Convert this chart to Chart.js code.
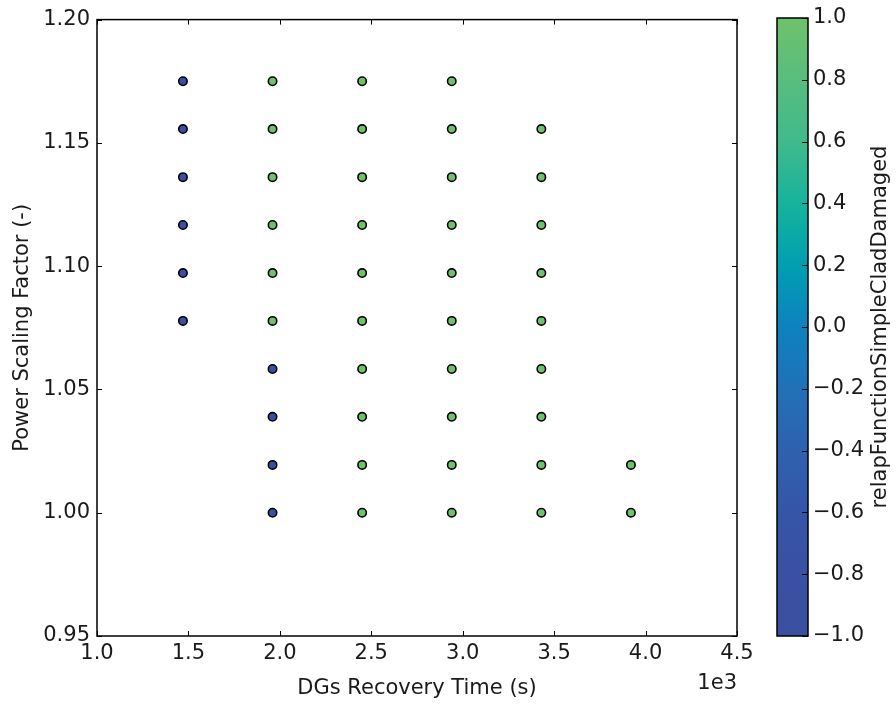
<!DOCTYPE html>
<html>
<head>
<meta charset="utf-8">
<script src="https://cdn.jsdelivr.net/npm/chart.js@4"></script>
<style>
  body { margin: 0; background: #fff; }
  #wrap { position: relative; width: 896px; height: 704px; }
  canvas { position: absolute; left: 0; top: 0; }
</style>
</head>
<body>
<div id="wrap">
  <canvas id="scatterCanvas" width="896" height="704"></canvas>
  <canvas id="colorbarCanvas" width="896" height="704"></canvas>
</div>
<script>
// sampled points: DG recovery time (s), power scaling factor, clad damaged flag
const recoveryTime = [
    1470, 1470, 1470, 1470, 1470, 1470,
    1960, 1960, 1960, 1960, 1960, 1960, 1960, 1960, 1960, 1960,
    2450, 2450, 2450, 2450, 2450, 2450, 2450, 2450, 2450, 2450,
    2940, 2940, 2940, 2940, 2940, 2940, 2940, 2940, 2940, 2940,
    3430, 3430, 3430, 3430, 3430, 3430, 3430, 3430, 3430,
    3920, 3920
];
const powerScaling = [
    1.0778, 1.0972, 1.1167, 1.1361, 1.1556, 1.175,
    1.0, 1.0194, 1.0389, 1.0583, 1.0778, 1.0972, 1.1167, 1.1361, 1.1556, 1.175,
    1.0, 1.0194, 1.0389, 1.0583, 1.0778, 1.0972, 1.1167, 1.1361, 1.1556, 1.175,
    1.0, 1.0194, 1.0389, 1.0583, 1.0778, 1.0972, 1.1167, 1.1361, 1.1556, 1.175,
    1.0, 1.0194, 1.0389, 1.0583, 1.0778, 1.0972, 1.1167, 1.1361, 1.1556,
    1.0, 1.0194
];
const cladDamaged = [
    -1, -1, -1, -1, -1, -1,
    -1, -1, -1, -1, 1, 1, 1, 1, 1, 1,
    1, 1, 1, 1, 1, 1, 1, 1, 1, 1,
    1, 1, 1, 1, 1, 1, 1, 1, 1, 1,
    1, 1, 1, 1, 1, 1, 1, 1, 1,
    1, 1
];

// colormap stops (value, colour)
const colorStops = [
    [-1.0, '#3b4f9f'], [-0.8, '#3a50a2'], [-0.6, '#3655a8'], [-0.4, '#2e61af'],
    [-0.2, '#2171b7'], [0.0, '#0d82c0'], [0.2, '#009fb1'], [0.4, '#17b39c'],
    [0.6, '#40ba8c'], [0.8, '#58bd7e'], [1.0, '#6fc16b']
];

const FONT = { family: 'DejaVu Sans', size: 21 };
const TEXT = '#1a1a1a';

function hexToRgb(h) {
    return [parseInt(h.slice(1, 3), 16), parseInt(h.slice(3, 5), 16), parseInt(h.slice(5, 7), 16)];
}

function colorFor(v) {
    for (let i = 0; i < colorStops.length - 1; i++) {
        const [v0, c0] = colorStops[i];
        const [v1, c1] = colorStops[i + 1];
        if (v <= v1) {
            const t = Math.max(0, (v - v0) / (v1 - v0));
            const a = hexToRgb(c0), b = hexToRgb(c1);
            const rgb = a.map((x, k) => Math.round(x + (b[k] - x) * t));
            return `rgb(${rgb.join(',')})`;
        }
    }
    return colorStops[colorStops.length - 1][1];
}

function minusSign(s) {
    return s.replace('-', '\u2212');
}

// frame + inward ticks on all four sides, plus the 1e3 offset label
const frameTicks = {
    id: 'frameTicks',
    afterDraw(chart) {
        const { ctx, chartArea: a, scales } = chart;
        ctx.save();
        ctx.strokeStyle = '#000';
        ctx.lineWidth = 1;
        ctx.beginPath();
        scales.x.ticks.forEach(t => {
            const px = Math.round(scales.x.getPixelForValue(t.value)) + 0.5;
            ctx.moveTo(px, a.bottom); ctx.lineTo(px, a.bottom - 5);
            ctx.moveTo(px, a.top); ctx.lineTo(px, a.top + 5);
        });
        scales.y.ticks.forEach(t => {
            const py = Math.round(scales.y.getPixelForValue(t.value)) + 0.5;
            ctx.moveTo(a.left, py); ctx.lineTo(a.left + 5, py);
            ctx.moveTo(a.right, py); ctx.lineTo(a.right - 5, py);
        });
        ctx.stroke();
        ctx.lineWidth = 1.5;
        ctx.strokeRect(a.left, a.top, a.right - a.left, a.bottom - a.top);

        ctx.fillStyle = TEXT;
        ctx.font = `${FONT.size}px ${FONT.family}`;
        ctx.textAlign = 'right';
        ctx.textBaseline = 'middle';
        ctx.fillText('1e3', a.right, a.bottom + 48);
        ctx.restore();
    }
};

const scatterChart = new Chart(document.getElementById('scatterCanvas').getContext('2d'), {
    type: 'scatter',
    data: {
        datasets: [{
            data: recoveryTime.map((x, i) => ({ x: x, y: powerScaling[i] })),
            pointBackgroundColor: cladDamaged.map(colorFor),
            pointBorderColor: '#000',
            pointBorderWidth: 1.6,
            pointRadius: 4.2,
            showLine: false
        }]
    },
    options: {
        responsive: false,
        animation: false,
        layout: { padding: { top: 18, right: 159, bottom: 0, left: 0 } },
        plugins: { legend: { display: false }, tooltip: { enabled: false } },
        scales: {
            x: {
                type: 'linear',
                min: 1000,
                max: 4500,
                ticks: {
                    stepSize: 500,
                    callback: v => (v / 1000).toFixed(1),
                    font: FONT,
                    color: TEXT,
                    padding: 5,
                    maxRotation: 0
                },
                grid: { display: false, drawTicks: false },
                border: { display: false },
                title: {
                    display: true,
                    text: 'DGs Recovery Time (s)',
                    font: FONT,
                    color: TEXT,
                    padding: { top: 0, bottom: 3 }
                },
                afterFit: s => { s.height = 68; }
            },
            y: {
                min: 0.95,
                max: 1.2,
                ticks: {
                    stepSize: 0.05,
                    callback: v => v.toFixed(2),
                    font: FONT,
                    color: TEXT,
                    padding: 7
                },
                grid: { display: false, drawTicks: false },
                border: { display: false },
                title: {
                    display: true,
                    text: 'Power Scaling Factor (-)',
                    font: FONT,
                    color: TEXT,
                    padding: { top: 10, bottom: 0 }
                },
                afterFit: s => { s.width = 97; }
            }
        }
    },
    plugins: [frameTicks]
});

// colorbar ticks and rotated label
const colorbarDecor = {
    id: 'colorbarDecor',
    afterDraw(chart) {
        const { ctx, chartArea: a, scales } = chart;
        ctx.save();
        ctx.strokeStyle = '#000';
        ctx.lineWidth = 1;
        ctx.beginPath();
        scales.y.ticks.forEach(t => {
            const py = Math.round(scales.y.getPixelForValue(t.value)) + 0.5;
            ctx.moveTo(a.right, py); ctx.lineTo(a.right - 6, py);
        });
        ctx.stroke();
        ctx.lineWidth = 1.5;
        ctx.strokeRect(a.left, a.top, a.right - a.left, a.bottom - a.top);

        ctx.translate(881, (a.top + a.bottom) / 2);
        ctx.rotate(-Math.PI / 2);
        ctx.fillStyle = TEXT;
        ctx.font = `${FONT.size}px ${FONT.family}`;
        ctx.textAlign = 'center';
        ctx.textBaseline = 'middle';
        ctx.fillText('relapFunctionSimpleCladDamaged', 0, 0);
        ctx.restore();
    }
};

const colorbarChart = new Chart(document.getElementById('colorbarCanvas').getContext('2d'), {
    type: 'bar',
    data: {
        labels: ['cb'],
        datasets: [{
            data: [[-1, 1]],
            backgroundColor: c => {
                const a = c.chart.chartArea;
                if (!a) return null;
                const g = c.chart.ctx.createLinearGradient(0, a.bottom, 0, a.top);
                colorStops.forEach(([v, col]) => g.addColorStop((v + 1) / 2, col));
                return g;
            },
            borderWidth: 0,
            barPercentage: 1,
            categoryPercentage: 1
        }]
    },
    options: {
        responsive: false,
        animation: false,
        layout: { padding: { top: 18, right: 0, bottom: 68, left: 777 } },
        plugins: { legend: { display: false }, tooltip: { enabled: false } },
        scales: {
            x: { display: false },
            y: {
                position: 'right',
                min: -1,
                max: 1,
                ticks: {
                    stepSize: 0.2,
                    callback: v => minusSign((Math.abs(v) < 1e-9 ? 0 : v).toFixed(1)),
                    font: FONT,
                    color: TEXT,
                    padding: 5
                },
                grid: { display: false, drawTicks: false },
                border: { display: false },
                afterFit: s => { s.width = 88; }
            }
        }
    },
    plugins: [colorbarDecor]
});
</script>
</body>
</html>
